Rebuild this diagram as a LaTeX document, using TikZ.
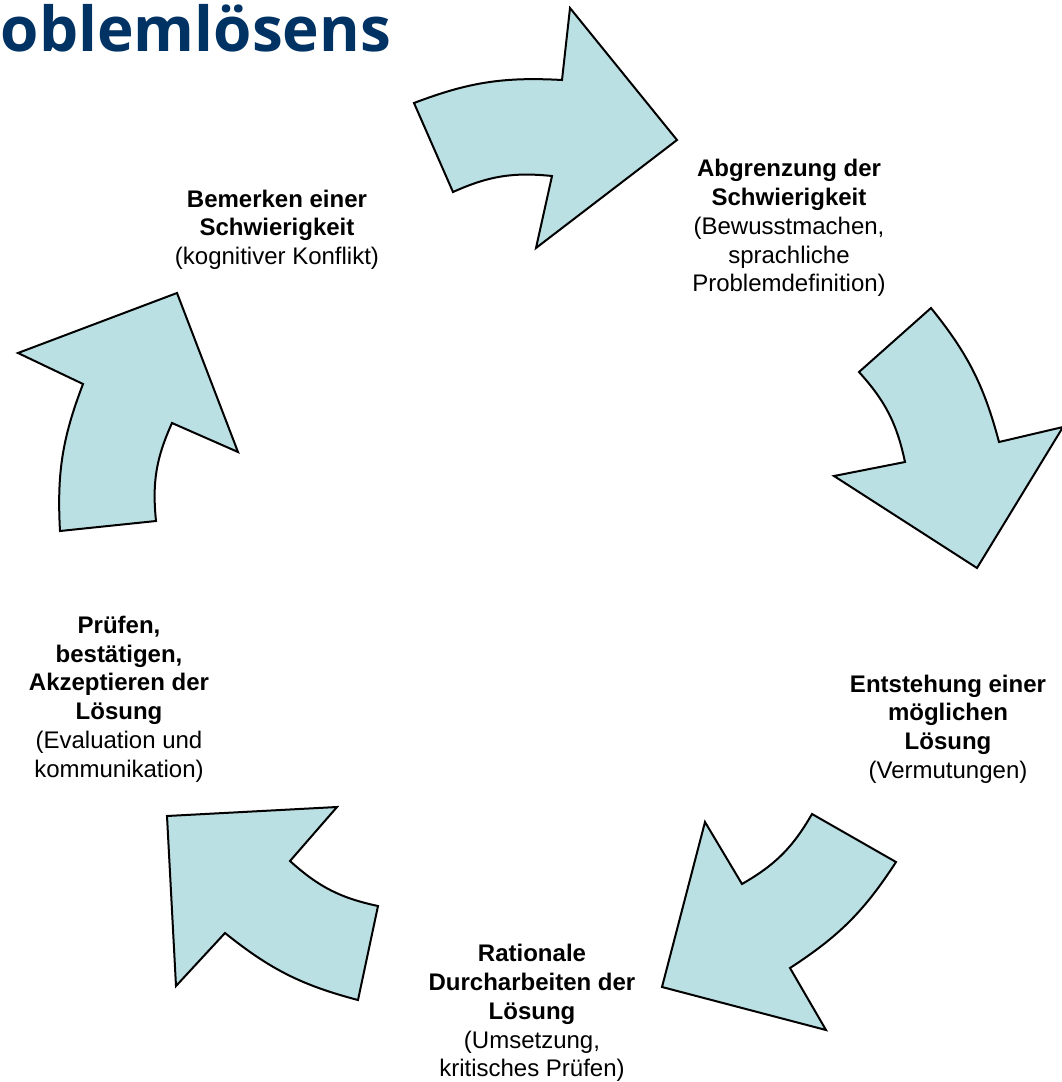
\documentclass[tikz,border=0pt]{standalone}
\usepackage{fontspec}
\setmainfont{Liberation Sans}
\newfontfamily\titlefont{Open Sans}
\definecolor{arrowfill}{RGB}{187,224,227}
\definecolor{titleblue}{RGB}{0,50,100}
\begin{document}
\begin{tikzpicture}[x=0.75pt,y=0.75pt,
  cyclearrow/.style={draw=black, line width=1.5pt, fill=arrowfill, line join=miter},
  phase/.style={align=center, inner sep=0pt, font=\fontsize{18pt}{21.6pt}\selectfont},
  titletext/.style={anchor=base west, inner sep=0pt, text=titleblue, font=\titlefont\bfseries\fontsize{46.5pt}{56pt}\selectfont}]
\useasboundingbox (0,0) rectangle (1061,-1082);

\node[titletext] (title) at (0.5,-51) {oblemlösens};

% arrow 1 (top)
\draw[cyclearrow] (414,-103) to[bend left=12] (562,-80) -- (570,-8) -- (677,-140)
  -- (536,-248) -- (552,-176) to[bend right=15] (453,-192) -- cycle;
% arrow 2 (right)
\draw[cyclearrow] (931,-308) to[bend left=12] (999,-442) -- (1063,-427) -- (977,-568)
  -- (834,-476) -- (905,-462) to[bend right=15] (859,-372) -- cycle;
% arrow 3 (bottom right)
\draw[cyclearrow] (896,-862) to[bend left=12] (790,-968) -- (826,-1030) -- (662,-987)
  -- (705,-822) -- (742,-884) to[bend right=15] (812,-814) -- cycle;
% arrow 4 (bottom left)
\draw[cyclearrow] (358,-1000) to[bend left=12] (225,-933) -- (176,-986) -- (167,-816)
  -- (337,-807) -- (290,-861) to[bend right=15] (378,-906) -- cycle;
% arrow 5 (left)
\draw[cyclearrow] (60,-531) to[bend left=12] (83,-384) -- (18,-353) -- (177,-293)
  -- (238,-452) -- (172,-423) to[bend right=15] (156,-521) -- cycle;

\node[phase] (p1) at (277,-229.75) {\textbf{Bemerken einer}\\\textbf{Schwierigkeit}\\(kognitiver Konflikt)};
\node[phase] (p2) at (789,-228) {\textbf{Abgrenzung der}\\\textbf{Schwierigkeit}\\(Bewusstmachen,\\sprachliche\\Problemdefinition)};
\node[phase] (p3) at (948,-729) {\textbf{Entstehung einer}\\\textbf{möglichen}\\\textbf{Lösung}\\(Vermutungen)};
\node[phase] (p4) at (532,-1013) {\textbf{Rationale}\\\textbf{Durcharbeiten der}\\\textbf{Lösung}\\(Umsetzung,\\kritisches Prüfen)};
\node[phase] (p5) at (119,-699) {\textbf{Prüfen,}\\\textbf{bestätigen,}\\\textbf{Akzeptieren der}\\\textbf{Lösung}\\(Evaluation und\\kommunikation)};
\end{tikzpicture}
\end{document}
